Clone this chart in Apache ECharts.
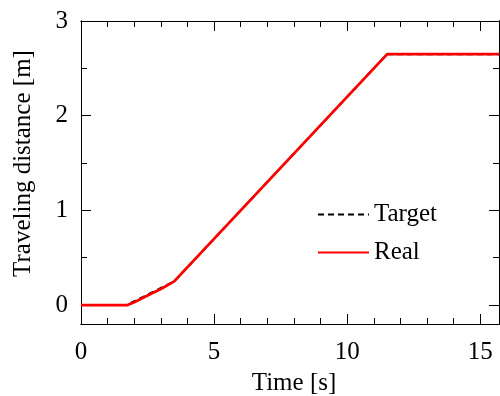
<!DOCTYPE html>
<html><head><meta charset="utf-8">
<script src="https://cdn.jsdelivr.net/npm/echarts@6/dist/echarts.min.js"></script>
<style>html,body{margin:0;padding:0;background:#fff}#c{width:500px;height:396px}</style>
</head><body><div id="c"></div>
<script>
// Data
const seriesNames = ['Target', 'Real'];
const targetData = [[0,0],[1.75,0],[1.85,0.02],[2.0,0.04],[2.5,0.11],[3.0,0.18],[3.5,0.25],[11.5,2.65],[15.7,2.65]];
const realData = [[0,0],[1.75,0],[2.0,0.03],[2.5,0.1],[3.0,0.17],[3.5,0.25],[11.5,2.65],[15.7,2.65]];
const xMajorTicks = [0,5,10,15];
const xMinorTicks = [1,2,3,4,6,7,8,9,11,12,13,14];
const yMajorTicks = [0,1,2,3];
const yMinorTicks = [0.5,1.5,2.5];
const xRange = [0, 15.7];
const yRange = [-0.2, 3];

const font = 'Liberation Serif';
function xAx(pos, ticks, len, labels, name) {
  return {
    type: 'value', position: pos, min: xRange[0], max: xRange[1],
    name: name || '', nameLocation: 'middle', nameGap: 47,
    nameTextStyle: {fontFamily: font, fontSize: 25, color: '#000', padding: [0,0,0,8]},
    axisLine: {show: true, onZero: false, lineStyle: {color: '#000', width: 1}},
    axisTick: {show: true, inside: true, length: len, customValues: ticks, lineStyle: {color: '#000', width: 1}},
    axisLabel: {show: !!labels, customValues: ticks, fontFamily: font, fontSize: 25, color: '#000', margin: 16},
    splitLine: {show: false}
  };
}
function yAx(pos, ticks, len, labels, name) {
  return {
    type: 'value', position: pos, min: yRange[0], max: yRange[1],
    name: name || '', nameLocation: 'middle', nameGap: 45,
    nameTextStyle: {fontFamily: font, fontSize: 25, color: '#000', padding: [0,0,0,18]},
    axisLine: {show: true, onZero: false, lineStyle: {color: '#000', width: 1}},
    axisTick: {show: true, inside: true, length: len, customValues: ticks, lineStyle: {color: '#000', width: 1}},
    axisLabel: {show: !!labels, customValues: ticks, fontFamily: font, fontSize: 25, color: '#000', margin: 13},
    splitLine: {show: false}
  };
}
const chart = echarts.init(document.getElementById('c'), null, {renderer: 'canvas'});
chart.setOption({
  animation: false,
  backgroundColor: '#fff',
  grid: {left: 81, right: 1, top: 21, bottom: 72, containLabel: false, outerBoundsMode: 'none'},
  legend: {
    orient: 'vertical', left: 317, top: 202, padding: 0, itemWidth: 51, itemHeight: 14, itemGap: 13,
    itemStyle: {opacity: 0},
    textStyle: {fontFamily: font, fontSize: 25, color: '#000', padding: [0,0,0,0]},
    data: seriesNames
  },
  xAxis: [
    xAx('bottom', xMajorTicks, 10, true, 'Time [s]'),
    xAx('bottom', xMinorTicks, 6, false),
    xAx('top', xMajorTicks, 10, false),
    xAx('top', xMinorTicks, 6, false)
  ],
  yAxis: [
    yAx('left', yMajorTicks, 10, true, 'Traveling distance [m]'),
    yAx('left', yMinorTicks, 6, false),
    yAx('right', yMajorTicks, 10, false),
    yAx('right', yMinorTicks, 6, false)
  ],
  series: [
    {name: seriesNames[0], type: 'line', data: targetData, symbol: 'none', z: 2,
     lineStyle: {color: '#000', width: 2, type: [6,4]}, itemStyle: {color: '#000'}},
    {name: seriesNames[1], type: 'line', data: realData, symbol: 'none', z: 3,
     lineStyle: {color: '#ff0000', width: 2.8}, itemStyle: {color: '#ff0000'}}
  ]
});
</script></body></html>
